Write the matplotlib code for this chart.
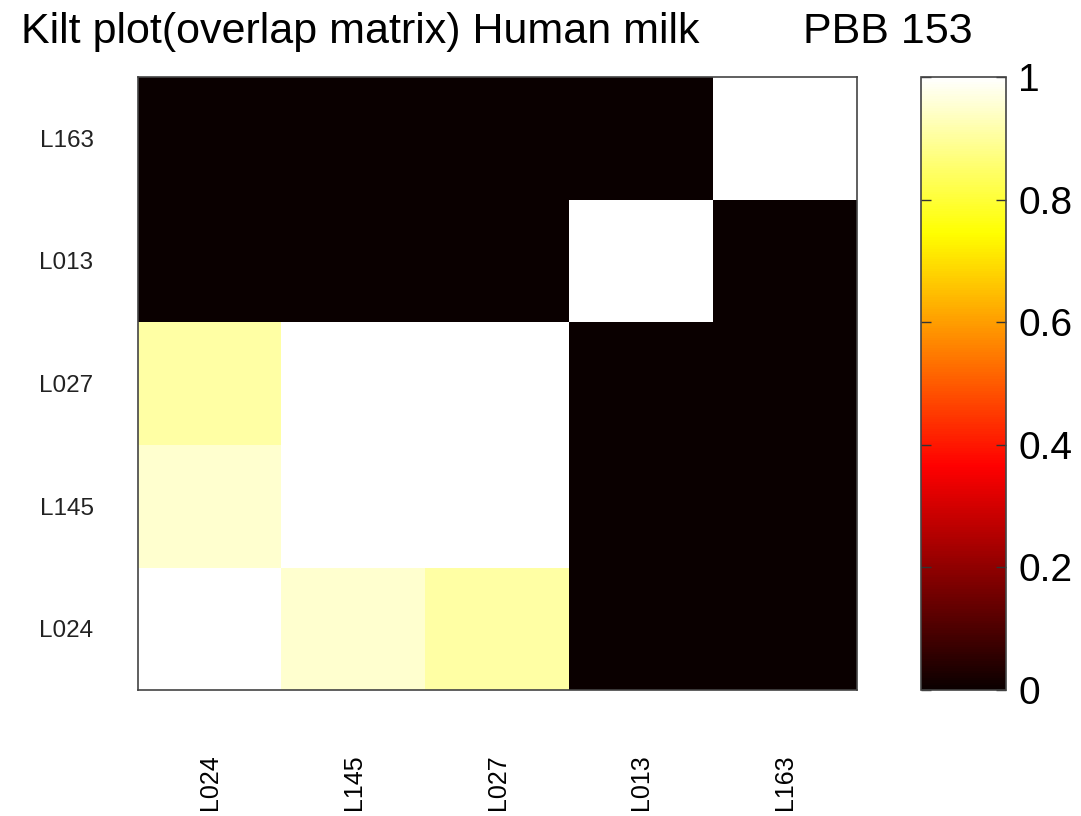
import numpy as np
import matplotlib
matplotlib.use("Agg")
import matplotlib.pyplot as plt

plt.rcParams["font.family"] = ["Liberation Sans", "DejaVu Sans"]

# samples, bottom row first (matches the axis order)
labels = ["L024", "L145", "L027", "L013", "L163"]
row_L024 = [1.00, 0.95, 0.91, 0.00, 0.00]
row_L145 = [0.95, 1.00, 1.00, 0.00, 0.00]
row_L027 = [0.91, 1.00, 1.00, 0.00, 0.00]
row_L013 = [0.00, 0.00, 0.00, 1.00, 0.00]
row_L163 = [0.00, 0.00, 0.00, 0.00, 1.00]
cbar_ticks = [0, 0.2, 0.4, 0.6, 0.8, 1]
cbar_labels = ["0", "0.2", "0.4", "0.6", "0.8", "1"]

overlap = np.array([row_L024, row_L145, row_L027, row_L013, row_L163])

fig = plt.figure(figsize=(10.81, 8.16), dpi=100)
ax = fig.add_axes([0.1277, 0.1544, 0.6651, 0.7512])
im = ax.imshow(overlap, cmap="hot", vmin=0, vmax=1, origin="lower",
               aspect="auto", interpolation="nearest",
               extent=(0.5, 5.5, 0.5, 5.5))

ax.set_xticks(np.arange(1, 6))
ax.set_yticks(np.arange(1, 6))
ax.set_xticklabels(labels, rotation=90, fontsize=18)
ax.set_yticklabels(labels, fontsize=17.5, color="#222222")
ax.tick_params(axis="x", length=0, pad=46)
ax.tick_params(axis="y", length=0, pad=32)
for s in ax.spines.values():
    s.set_color("#444444")
    s.set_linewidth(1.2)

cax = fig.add_axes([0.8520, 0.1544, 0.0786, 0.7512])
cb = fig.colorbar(im, cax=cax, ticks=cbar_ticks)
cb.ax.set_yticklabels(cbar_labels, fontsize=28)
cb.ax.tick_params(direction="in", left=True, right=True, length=7,
                  width=1, color="#333333", pad=9)
cb.outline.set_edgecolor("#444444")
cb.outline.set_linewidth(1.2)

fig.text(0.019, 0.947, "Kilt plot(overlap matrix) Human milk",
         fontsize=31, va="baseline", ha="left")
fig.text(0.743, 0.947, "PBB 153", fontsize=31, va="baseline", ha="left")

fig.savefig("out.png", dpi=100)
